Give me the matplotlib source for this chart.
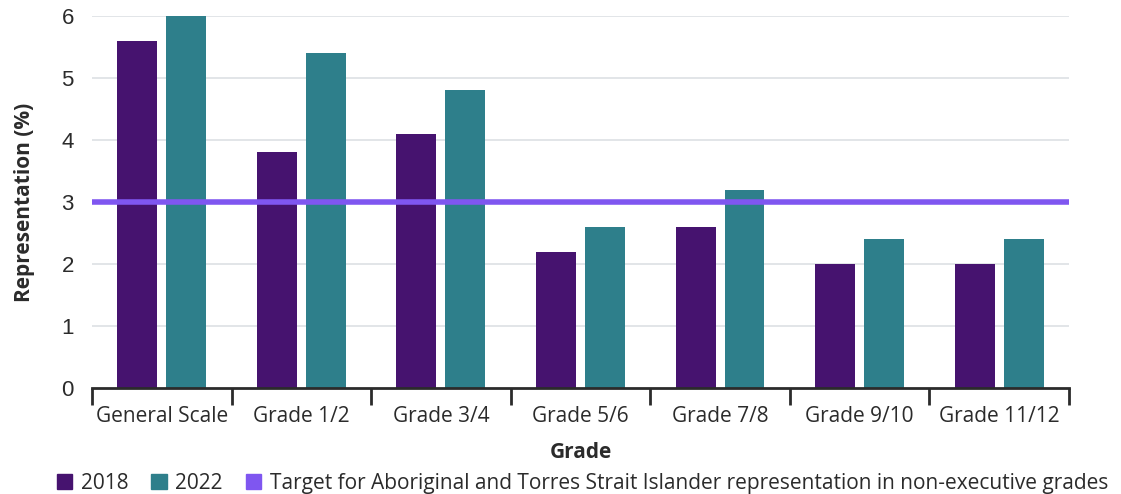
import numpy as np
import matplotlib
matplotlib.use('Agg')
import matplotlib.pyplot as plt
from matplotlib.patches import Patch

# data to plot
grades = ['General Scale', 'Grade 1/2', 'Grade 3/4', 'Grade 5/6',
          'Grade 7/8', 'Grade 9/10', 'Grade 11/12']
rep_2018 = [5.6, 3.8, 4.1, 2.2, 2.6, 2.0, 2.0]
rep_2022 = [6.0, 5.4, 4.8, 2.6, 3.2, 2.4, 2.4]
target = 3
target_label = ('Target for Aboriginal and Torres Strait Islander '
                'representation in non-executive grades')

plt.rcParams['font.family'] = ['Open Sans', 'DejaVu Sans']
text_color = '#2b2b2b'
c2018 = '#46136f'
c2022 = '#2e7f8b'
ctarget = '#7f56f0'
fs = 15

fig = plt.figure(figsize=(11.21, 4.94), dpi=100)
ax = fig.add_axes([0.082, 0.2146, 0.8716, 0.753])

index = np.arange(len(grades))
bar_width = 0.286
offset = 0.175

ax.bar(index - offset, rep_2018, bar_width, color=c2018, zorder=3)
ax.bar(index + offset, rep_2022, bar_width, color=c2022, zorder=3)
ax.axhline(target, color=ctarget, lw=4, zorder=4)

ax.set_xlim(-0.5, len(grades) - 0.5)
ax.set_ylim(0, 6)
ax.set_yticks(range(0, 7))
ax.set_yticklabels([str(v) for v in range(0, 7)], family='Liberation Sans')
for g in range(1, 7):
    ax.axhline(g, color='#dde0e4', lw=1.2, zorder=1)

# category labels in the middle, tick marks at boundaries
ax.set_xticks(index)
ax.set_xticklabels(grades)
ax.set_xticks(np.arange(-0.5, len(grades)), minor=True)
ax.tick_params(axis='x', which='major', length=0, pad=13,
               labelsize=fs, labelcolor=text_color)
ax.tick_params(axis='x', which='minor', length=12, width=2,
               color='#2b2b2b', direction='out')
ax.tick_params(axis='y', length=0, pad=13, labelsize=fs + 1,
               labelcolor=text_color)

for s in ['top', 'right', 'left']:
    ax.spines[s].set_visible(False)
ax.spines['bottom'].set_color('#2b2b2b')
ax.spines['bottom'].set_linewidth(2)
ax.spines['bottom'].set_zorder(5)

ax.set_xlabel('Grade', fontsize=fs, fontweight='bold',
              color=text_color, labelpad=11)
ax.set_ylabel('Representation (%)', fontsize=fs, fontweight='bold',
              color=text_color, labelpad=19)

handles = [Patch(color=c2018), Patch(color=c2022), Patch(color=ctarget)]
fig.legend(handles, ['2018', '2022', target_label],
           loc='lower left', bbox_to_anchor=(0.034, -0.038), ncol=3,
           frameon=False, fontsize=fs, handlelength=0.75,
           handleheight=0.75, handletextpad=0.4, columnspacing=1.1,
           labelcolor=text_color)

fig.savefig('out.png', dpi=100)
